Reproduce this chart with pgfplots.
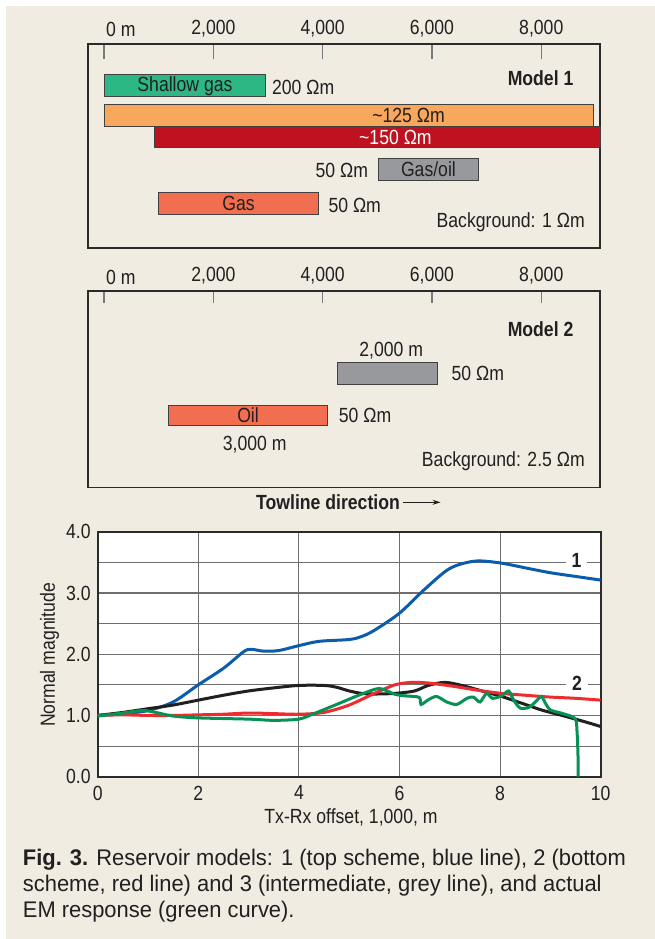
\documentclass[border=0pt]{standalone}
\usepackage{fontspec}
\setmainfont{Liberation Sans}[FakeStretch=0.86]
\newfontfamily\capfont{Liberation Sans}[FakeStretch=0.97]
\usepackage{pgfplots}
\pgfplotsset{compat=1.18}
\usetikzlibrary{arrows.meta}

\definecolor{bg}{HTML}{F0ECE2}
\definecolor{frame}{HTML}{2B2B2B}
\definecolor{tickgray}{HTML}{7A7A7A}
\definecolor{shallow}{HTML}{2DB784}
\definecolor{orange125}{HTML}{F7A85C}
\definecolor{red150}{HTML}{BE1220}
\definecolor{grayres}{HTML}{98999C}
\definecolor{salmon}{HTML}{F26E50}
\definecolor{txt}{HTML}{231F20}
\definecolor{cblue}{HTML}{0B5CAB}
\definecolor{cred}{HTML}{EE2B2F}
\definecolor{cblack}{HTML}{231F20}
\definecolor{cgreen}{HTML}{079155}
\definecolor{gridc}{HTML}{6D6E70}

\newcommand{\tl}{\textasciitilde}

\pgfplotsset{
  panel/.style={
    scale only axis, width=512.6pt,
    xmin=-300, xmax=9080, ymin=0, y dir=reverse,
    axis line style={frame, line width=1.8pt},
    xtick={0,2000,4000,6000,8000},
    xticklabels={\makebox[0pt][l]{\kern2pt 0 m},{2,000},{4,000},{6,000},{8,000}},
    xtick pos=upper, xticklabel pos=upper,
    ytick=\empty,
    tick align=inside,
    every tick/.style={tickgray, line width=1.2pt},
    ticklabel style={text=txt},
    /pgf/number format/assume math mode=true,
    clip=false,
  },
  bar/.style={draw=frame!90, line width=0.9pt},
}

\begin{document}
\fontsize{20.5}{24}\selectfont
\begin{tikzpicture}
\useasboundingbox (0pt,0pt) rectangle (655pt,-939pt);
\fill[white] (0pt,0pt) rectangle (655pt,-939pt);
\fill[bg] (6pt,-6pt) rectangle (655pt,-939pt);

% ---------------- Model 1 ----------------
\begin{axis}[panel, at={(87.7pt,-44pt)}, anchor=north west,
  height=203.7pt, ymax=203.7, major tick length=15pt]
\addplot[bar, fill=shallow] coordinates {(0,30.9)(2960,30.9)(2960,52.5)(0,52.5)} -- cycle;
\addplot[bar, fill=orange125] coordinates {(0,60.8)(8950,60.8)(8950,82.1)(0,82.1)} -- cycle;
\addplot[bar, fill=red150] coordinates {(930,82.1)(9080,82.1)(9080,103.4)(930,103.4)} -- cycle;
\addplot[bar, fill=grayres] coordinates {(5023,114.7)(6848,114.7)(6848,136.6)(5023,136.6)} -- cycle;
\addplot[bar, fill=salmon] coordinates {(1001,148.9)(3921,148.9)(3921,170.5)(1001,170.5)} -- cycle;
\node[text=txt] at (axis cs:1480,41.7) {Shallow gas};
\node[text=txt, anchor=west, inner sep=0pt] at (axis cs:3071,43.9) {200 Ωm};
\node[text=txt] at (axis cs:5570,71.5) {\tl125 Ωm};
\node[text=white] at (axis cs:5331,93.0) {\tl150 Ωm};
\node[text=txt, anchor=east, inner sep=0pt] at (axis cs:4834,126.5) {50 Ωm};
\node[text=txt] at (axis cs:5935,125.6) {Gas/oil};
\node[text=txt] at (axis cs:2461,159.7) {Gas};
\node[text=txt, anchor=west, inner sep=0pt] at (axis cs:4104,161.5) {50 Ωm};
\node[text=txt, anchor=east, inner sep=0pt, font=\bfseries] at (axis cs:8591,34.2) {Model 1};
\node[text=txt, anchor=east, inner sep=0pt] at (axis cs:8799,177.8) {Background: 1 Ωm};
\end{axis}

% ---------------- Model 2 ----------------
\begin{axis}[panel, at={(87.7pt,-291.3pt)}, anchor=north west,
  height=196.1pt, ymax=196.1, major tick length=12pt]
\addplot[bar, fill=grayres] coordinates {(4267,71.5)(6093,71.5)(6093,93.1)(4267,93.1)} -- cycle;
\addplot[bar, fill=salmon] coordinates {(1177,113.7)(4091,113.7)(4091,134.6)(1177,134.6)} -- cycle;
\node[text=txt] at (axis cs:5255,59.8) {2,000 m};
\node[text=txt, anchor=west, inner sep=0pt] at (axis cs:6357,82.5) {50 Ωm};
\node[text=txt] at (axis cs:2634,124) {Oil};
\node[text=txt, anchor=west, inner sep=0pt] at (axis cs:4293,124) {50 Ωm};
\node[text=txt] at (axis cs:2757,152.9) {3,000 m};
\node[text=txt, anchor=east, inner sep=0pt, font=\bfseries] at (axis cs:8591,37.6) {Model 2};
\node[text=txt, anchor=east, inner sep=0pt] at (axis cs:8799,169.5) {Background: 2.5 Ωm};
\node[text=txt, font=\bfseries] at (axis cs:4097,211) {Towline direction};
\draw[txt, line width=1pt, -{Stealth[length=8pt,width=5pt]}] (axis cs:5478,211) -- (axis cs:6157,211);
\end{axis}

% ---------------- Response chart ----------------
\begin{axis}[at={(97.7pt,-531.7pt)}, anchor=north west,
  scale only axis, width=503pt, height=245pt,
  xmin=0, xmax=10, ymin=0, ymax=4,
  axis background/.style={fill=white},
  axis line style={frame, line width=1.8pt},
  grid=major, major grid style={gridc, line width=1.1pt},
  xtick={0,2,4,6,8,10}, xticklabels={0,2,4,6,8,10},
  ytick={0,0.5,1,1.5,2,2.5,3,3.5,4},
  yticklabels={0.0,,1.0,,2.0,,3.0,,4.0},
  major tick length=0pt,
  ticklabel style={text=txt},
  xticklabel style={yshift=-2pt},
  /pgf/number format/assume math mode=true,
  xlabel={Tx-Rx offset, 1,000, m},
  ylabel={Normal magnitude},
  xlabel style={at={(axis description cs:0.5036,-0.1645)}, anchor=center, text=txt},
  ylabel style={at={(axis description cs:-0.0956,0.497)}, anchor=center, text=txt},
  clip=true,
]
\addplot[cblue, line width=3pt, smooth] coordinates {
(0,1.0)(0.5,1.03)(1,1.08)(1.5,1.22)(2,1.5)(2.5,1.77)(2.9,2.04)(3.05,2.08)(3.3,2.05)(3.6,2.06)
(4,2.14)(4.4,2.21)(5,2.24)(5.25,2.29)(5.5,2.39)(6,2.67)(6.5,3.06)(7,3.40)(7.5,3.52)(8,3.49)
(8.5,3.41)(9,3.33)(9.5,3.27)(10,3.21)};
\addplot[cblack, line width=3pt, smooth] coordinates {
(0,1.0)(0.5,1.05)(1,1.11)(1.5,1.17)(2,1.25)(2.5,1.33)(3,1.40)(3.5,1.45)(4,1.49)(4.5,1.49)
(4.75,1.46)(5,1.40)(5.25,1.36)(5.5,1.35)(5.9,1.36)(6.3,1.40)(6.57,1.49)(6.9,1.54)(7.24,1.49)
(7.64,1.40)(8.03,1.31)(8.43,1.20)(8.82,1.09)(9.23,1.0)(9.63,0.91)(10,0.82)};
\addplot[cred, line width=3pt, smooth] coordinates {
(0,1.0)(0.5,1.01)(1,1.0)(1.5,1.0)(2,1.01)(2.5,1.02)(3,1.04)(3.5,1.03)(4,1.02)(4.5,1.05)
(5,1.17)(5.5,1.36)(5.91,1.50)(6.24,1.54)(6.57,1.53)(7.04,1.48)(7.57,1.41)(8.03,1.36)
(8.5,1.33)(9,1.30)(9.5,1.28)(10,1.25)};
\addplot[cgreen, line width=3pt, smooth, tension=0.45] coordinates {
(0,0.99)(0.5,1.04)(0.9,1.08)(1.15,1.05)(1.5,0.99)(2,0.96)(3,0.94)(3.5,0.92)(4,0.94)
(4.3,1.03)(4.75,1.18)(5.25,1.35)(5.6,1.44)(5.91,1.345)(6.11,1.32)(6.39,1.296)(6.43,1.18)
(6.58,1.26)(6.74,1.31)(6.94,1.22)(7.14,1.18)(7.34,1.28)(7.47,1.30)(7.6,1.22)(7.73,1.36)
(7.85,1.28)(8.03,1.32)(8.17,1.40)(8.27,1.25)(8.4,1.12)(8.57,1.13)(8.7,1.22)(8.82,1.31)
(8.9,1.20)(9.0,1.09)(9.23,1.035)(9.49,0.95)(9.53,0.73)(9.55,0.3)(9.55,0.0)};
\node[fill=white, text=txt, font=\bfseries, inner xsep=6pt, inner ysep=1pt] at (axis cs:9.52,3.53) {1};
\node[fill=white, text=txt, font=\bfseries, inner xsep=6pt, inner ysep=1pt] at (axis cs:9.53,1.53) {2};
\end{axis}

% ---------------- Caption ----------------
\node[anchor=base west, align=left, inner sep=0pt, text=txt,
      font=\capfont\fontsize{22.6}{26}\selectfont] at (22.7pt,-917pt)
  {\textbf{Fig. 3.} Reservoir models: 1 (top scheme, blue line), 2 (bottom\\
   scheme, red line) and 3 (intermediate, grey line), and actual\\
   EM response (green curve).};
\end{tikzpicture}
\end{document}
